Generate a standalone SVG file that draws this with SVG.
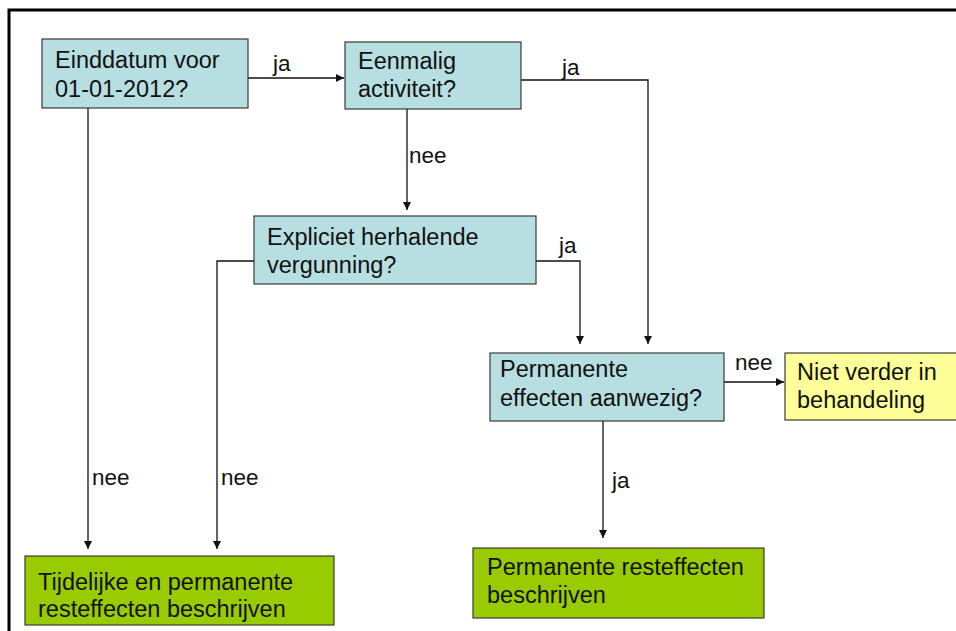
<svg xmlns="http://www.w3.org/2000/svg" width="956" height="631" viewBox="0 0 956 631">
  <style>
    .box { stroke: #3a3a3a; stroke-width: 1.2; }
    .q { fill: #b7dfe2; }
    .y { fill: #ffff99; }
    .g { fill: #99cc00; }
    text { font-family: "Liberation Sans", Arial, sans-serif; font-size: 23.5px; fill: #111; }
    .lbl { font-size: 22.5px; }
    .wire { fill: none; stroke: #111; stroke-width: 1.3; }
  </style>
  <defs>
    <marker id="arrow" viewBox="0 0 10 10" refX="10" refY="5" markerWidth="8" markerHeight="8" markerUnits="userSpaceOnUse" orient="auto">
      <path d="M0,0 L10,5 L0,10 z" fill="#111"/>
    </marker>
  </defs>

  <rect width="956" height="631" fill="#ffffff"/>
  <!-- frame -->
  <path d="M9,631 V10 H956" fill="none" stroke="#000" stroke-width="3"/>

  <!-- connectors -->
  <g id="connectors">
    <path class="wire" d="M248,78 H344" marker-end="url(#arrow)"/>
    <text class="lbl" x="273" y="71">ja</text>

    <path class="wire" d="M521,80 H648 V344" marker-end="url(#arrow)"/>
    <text class="lbl" x="562" y="75">ja</text>

    <path class="wire" d="M407,109 V210" marker-end="url(#arrow)"/>
    <text class="lbl" x="409" y="163">nee</text>

    <path class="wire" d="M536,261 H580 V344" marker-end="url(#arrow)"/>
    <text class="lbl" x="559" y="253">ja</text>

    <path class="wire" d="M254,261 H217 V549" marker-end="url(#arrow)"/>
    <text class="lbl" x="221" y="485">nee</text>

    <path class="wire" d="M88,108 V549" marker-end="url(#arrow)"/>
    <text class="lbl" x="92" y="485">nee</text>

    <path class="wire" d="M724,382 H784" marker-end="url(#arrow)"/>
    <text class="lbl" x="735" y="370">nee</text>

    <path class="wire" d="M603,421 V538" marker-end="url(#arrow)"/>
    <text class="lbl" x="612" y="488">ja</text>
  </g>

  <!-- decision nodes -->
  <g id="einddatum">
    <rect class="box q" x="42" y="39" width="206" height="69"/>
    <text x="55" y="68">Einddatum voor</text>
    <text x="55" y="97">01-01-2012?</text>
  </g>
  <g id="eenmalig">
    <rect class="box q" x="345" y="42" width="176" height="67"/>
    <text x="358" y="69">Eenmalig</text>
    <text x="358" y="97">activiteit?</text>
  </g>
  <g id="herhalend">
    <rect class="box q" x="254" y="216" width="282" height="68"/>
    <text x="267" y="245">Expliciet herhalende</text>
    <text x="267" y="273">vergunning?</text>
  </g>
  <g id="permanent">
    <rect class="box q" x="490" y="353" width="234" height="68"/>
    <text x="500" y="377">Permanente</text>
    <text x="500" y="406">effecten aanwezig?</text>
  </g>

  <!-- outcome nodes -->
  <g id="niet-verder">
    <rect class="box y" x="785" y="353" width="180" height="67"/>
    <text x="797" y="380">Niet verder in</text>
    <text x="797" y="408">behandeling</text>
  </g>
  <g id="tijdelijk-permanent">
    <rect class="box g" x="25" y="556" width="309" height="69"/>
    <text x="38" y="590">Tijdelijke en permanente</text>
    <text x="38" y="617">resteffecten beschrijven</text>
  </g>
  <g id="permanent-rest">
    <rect class="box g" x="473" y="548" width="291" height="70"/>
    <text x="487" y="575">Permanente resteffecten</text>
    <text x="487" y="603">beschrijven</text>
  </g>
</svg>
